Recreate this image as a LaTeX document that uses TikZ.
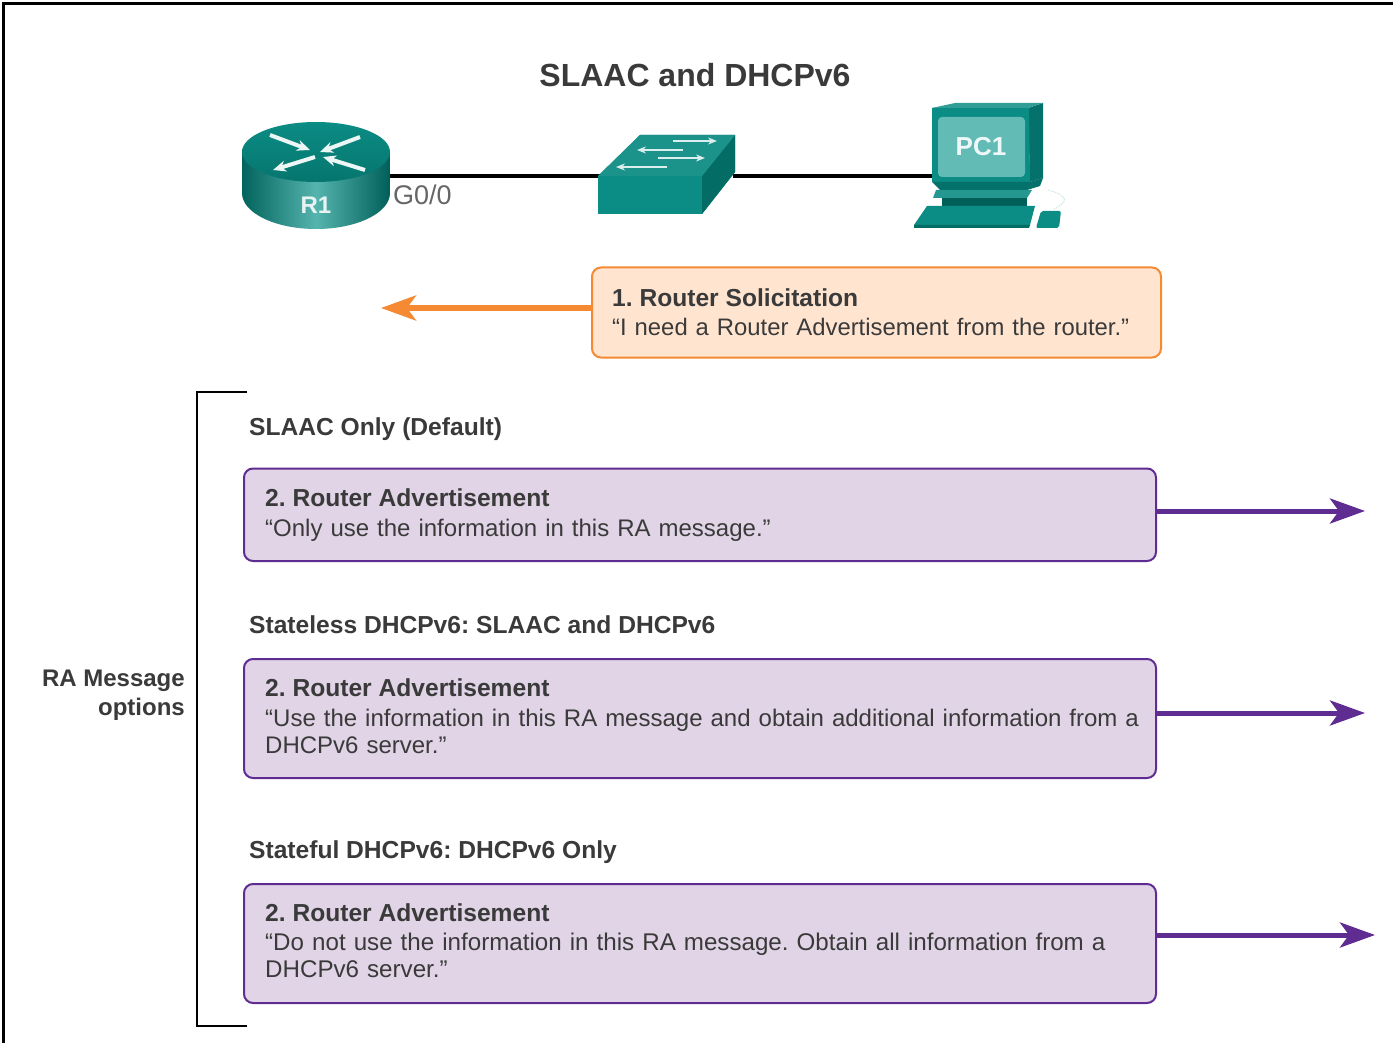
\documentclass[tikz,border=0pt]{standalone}
\usepackage{fontspec}
\setmainfont{Liberation Sans}
\usetikzlibrary{arrows.meta}
\definecolor{tealA}{HTML}{0B8C84}
\definecolor{tealB}{HTML}{0F8C84}
\definecolor{tealD}{HTML}{005F58}
\definecolor{tealL}{HTML}{63BBB6}
\definecolor{orgF}{HTML}{FFE4D0}
\definecolor{orgL}{HTML}{F58A33}
\definecolor{purF}{HTML}{E0D4E6}
\definecolor{purL}{HTML}{5F2D91}
\definecolor{txt}{HTML}{3A3A3A}
\tikzset{
 boxbase/.style={rounded corners=9pt,line width=2pt,anchor=north west,inner sep=0pt,outer sep=0pt},
 orgbox/.style={boxbase,draw=orgL,fill=orgF},
 purbox/.style={boxbase,draw=purL,fill=purF},
 msg/.style={anchor=north west,align=left,inner sep=0pt,text=txt,font=\fontsize{24}{28}\selectfont,text width=#1},
 head/.style={anchor=base west,inner sep=0pt,text=txt,font=\fontsize{24.6}{28}\selectfont\bfseries},
 link/.style={line width=4.5pt,black},
 purarrow/.style={line width=5pt,purL,-{Stealth[length=35pt,width=25pt,inset=9pt]}},
 orgarrow/.style={line width=5pt,orgL,-{Stealth[length=35pt,width=25pt,inset=9pt]}},
 bracket/.style={line width=2.5pt,black},
 whitearrow/.style={line width=4pt,white!92!tealA,-{Stealth[length=13pt,width=11pt]}},
 swarrow/.style={line width=2.2pt,white!85!tealA,-{Stealth[length=9pt,width=7pt]}},
}
\begin{document}
\frenchspacing
\begin{tikzpicture}[x=1pt,y=-1pt]
\useasboundingbox (0,0) rectangle (1393,1043);
\fill[white] (0,0) rectangle (1393,1043);
\draw[line width=2.5pt,black] (3.5,1043) -- (3.5,3.5) -- (1393,3.5);
\node[anchor=center,inner sep=0pt,text=txt,font=\fontsize{32}{36}\selectfont\bfseries] (title) at (695,75) {SLAAC and DHCPv6};

% anchors of the link
\coordinate (rport) at (388,176);
\coordinate (swl) at (600,176);
\coordinate (swr) at (733,176);
\coordinate (pcl) at (934,176);
\draw[link] (rport) -- (swl);
\draw[link] (swr) -- (pcl);

% router
\shade[left color=tealD!90!tealA,right color=tealD,middle color=tealL!85!tealA]
  (242,152) -- (242,193) arc[start angle=180,end angle=0,x radius=74,y radius=36] -- (390,152) -- cycle;
\shade[top color=tealA,bottom color=tealD!50!tealA] (316,152) ellipse[x radius=74,y radius=30];
\draw[whitearrow] (270,135) -- (310,150);
\draw[whitearrow] (360,137) -- (320,152);
\draw[whitearrow] (315,157) -- (273,170);
\draw[whitearrow] (365,170) -- (323,157);
\node[inner sep=0pt,text=white!90!tealA,font=\fontsize{24}{26}\selectfont\bfseries] (r1) at (316,205) {R1};
\node[anchor=west,inner sep=0pt,text=black!60,font=\fontsize{27}{28}\selectfont] (g00) at (393,195) {G0/0};

% switch
\fill[tealA] (598,176) -- (640,135) -- (735,135) -- (735,172) -- (702,214) -- (598,214) -- cycle;
\fill[tealD!70!tealA] (702,176) -- (735,135) -- (735,172) -- (702,214) -- cycle;
\fill[tealB!95!white] (598,176) -- (640,135) -- (735,135) -- (702,176) -- cycle;
\draw[swarrow] (673,141) -- (717,141);
\draw[swarrow] (683,150) -- (637,150);
\draw[swarrow] (658,158) -- (705,158);
\draw[swarrow] (667,167) -- (616,167);

% PC
\fill[tealD!60!tealA] (1028,108) -- (1043,103) -- (1043,178) -- (1030,182) -- cycle;
\fill[tealA] (932,108) -- (1029,108) -- (1030,182) -- (932,182) -- cycle;
\fill[tealA!85!white] (932,108) -- (955,103) -- (1043,103) -- (1028,108) -- cycle;
\fill[tealL,rounded corners=4pt] (938,117) rectangle (1025,177);
\node[inner sep=0pt,text=white!90!tealL,font=\fontsize{26}{28}\selectfont\bfseries] (pc1) at (981,147) {PC1};
\fill[tealD!60!tealA] (932,182) -- (1030,182) -- (1043,178) -- (1040,186) -- (1027,190) -- (940,190) -- cycle;
\fill[tealA!90!white] (936,190) -- (1032,190) -- (1027,198) -- (933,198) -- cycle;
\fill[tealD] (942,198) -- (1027,198) -- (1027,206) -- (942,206) -- cycle;
\fill[tealA] (927,206) -- (1035,206) -- (1030,225) -- (914,225) -- cycle;
\fill[tealD!70!tealA] (914,225) -- (1030,225) -- (1029,228) -- (914,228) -- cycle;
\fill[tealA,rounded corners=2pt] (1041,211) -- (1061,211) -- (1059,228) -- (1036,228) -- cycle;
\draw[white!75!tealA,line width=1pt,densely dotted] (1054,209) .. controls (1068,202) and (1070,196) .. (1048,190);

% solicitation
\node[orgbox,minimum width=569pt,minimum height=90pt] (sol) at (592,267.5) {};
\node[head] (solh) at (612,306) {1. Router Solicitation};
\node[msg=530pt,anchor=base west,font=\fontsize{23.85}{28}\selectfont] (solt) at (612,335) {“I need a Router Advertisement from the router.”};
\coordinate (solend) at (381,308);
\draw[orgarrow] (sol.west |- solend) -- (solend);

% bracket
\coordinate (bt) at (247,392);
\coordinate (bb) at (247,1026);
\draw[bracket] (bt) -- (197,392) -- (197,1026) -- (bb);
\node[anchor=north east,align=right,inner sep=0pt,text=txt,font=\fontsize{24}{29}\selectfont\bfseries] (ra) at (185,670) {RA Message\\options};

% section labels
\node[head] (l1) at (249,435) {SLAAC Only (Default)};
\node[head] (l2) at (249,633) {Stateless DHCPv6: SLAAC and DHCPv6};
\node[head] (l3) at (249,858) {Stateful DHCPv6: DHCPv6 Only};

% RA boxes
\node[purbox,minimum width=912pt,minimum height=92.5pt] (b1) at (244,468.5) {};
\node[head] (b1h) at (265,506) {2. Router Advertisement};
\node[msg=880pt,anchor=base west] (b1t) at (265,536) {“Only use the information in this RA message.”};

\node[purbox,minimum width=912pt,minimum height=119pt] (b2) at (244,659) {};
\node[head] (b2h) at (265,696) {2. Router Advertisement};
\node[msg=880pt,anchor=north west] (b2t) at (265,709) {“Use the information in this RA message and obtain additional information from a\\[-1pt] DHCPv6 server.”};

\node[purbox,minimum width=912pt,minimum height=119pt] (b3) at (244,884) {};
\node[head] (b3h) at (265,921) {2. Router Advertisement};
\node[msg=880pt,anchor=north west,font=\fontsize{24.15}{28}\selectfont] (b3t) at (265,933) {“Do not use the information in this RA message. Obtain all information from a\\[-1pt] DHCPv6 server.”};

\coordinate (e1) at (1365,511);
\coordinate (e2) at (1365,713);
\coordinate (e3) at (1375,935);
\draw[purarrow] (b1.east |- e1) -- (e1);
\draw[purarrow] (b2.east |- e2) -- (e2);
\draw[purarrow] (b3.east |- e3) -- (e3);
\end{tikzpicture}
\end{document}
